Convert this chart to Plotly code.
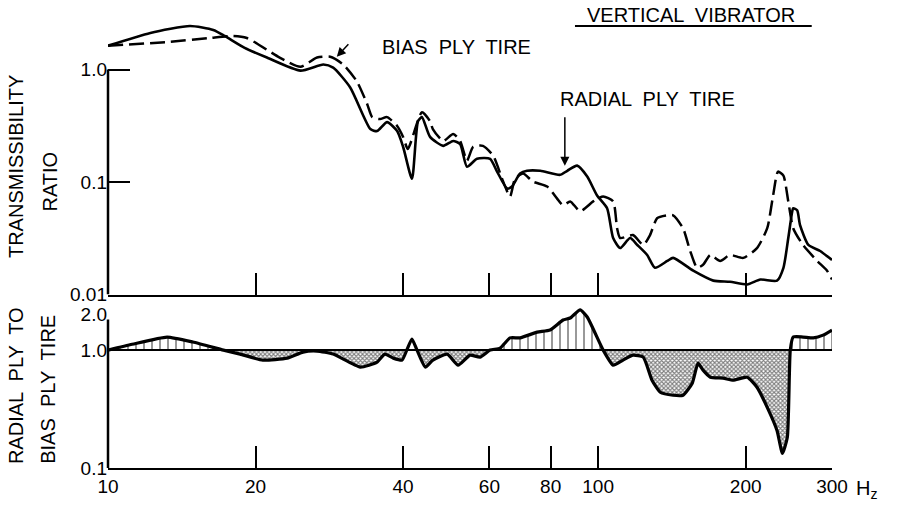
import numpy as np
import plotly.graph_objects as go
from plotly.subplots import make_subplots

# Transmissibilidade - pneu radial (linha cheia)
radial_hz = [10.0, 12.2, 14.7, 16.4, 17.3, 19.0, 21.1, 24.7, 27.5, 28.8, 31.2, 34.3, 35.4, 37.1,
             38.9, 40.0, 41.7, 42.9, 43.7, 45.4, 48.3, 50.6, 52.3, 54.0, 56.6, 60.2, 62.2, 65.2,
             66.7, 69.3, 71.6, 76.2, 83.6, 86.5, 90.6, 95.0, 99.5, 104.3, 107.3, 110.9, 116.2,
             120.2, 125.9, 130.6, 138.4, 142.2, 156.3, 171.8, 185.8, 201.4, 214.3, 231.7, 238.8,
             244.3, 248.9, 250.0, 254.7, 258.2, 268.5, 283.8, 300.0]
radial_tr = [1.63, 2.12, 2.44, 2.25, 1.99, 1.56, 1.28, 0.98, 1.11, 1.04, 0.694, 0.296, 0.284, 0.341,
             0.284, 0.206, 0.107, 0.348, 0.378, 0.252, 0.210, 0.232, 0.218, 0.137, 0.161, 0.161,
             0.124, 0.0877, 0.0913, 0.119, 0.126, 0.126, 0.116, 0.126, 0.140, 0.112, 0.076,
             0.0585, 0.0318, 0.0259, 0.0318, 0.0276, 0.0225, 0.0173, 0.0199, 0.0212, 0.0163,
             0.0133, 0.0130, 0.0123, 0.0136, 0.0133, 0.0173, 0.0318, 0.0550, 0.0585, 0.0561,
             0.0414, 0.0276, 0.0244, 0.0203]

# Transmissibilidade - pneu diagonal (tracejado)
bias_hz = [10.0, 13.2, 16.1, 18.0, 19.2, 22.4, 24.7, 26.7, 28.4, 30.2, 32.2, 33.8, 34.6, 35.9,
           37.1, 38.9, 40.0, 40.9, 43.7, 45.4, 46.0, 48.3, 50.6, 52.3, 54.0, 55.6, 58.2, 61.1,
           64.0, 66.1, 67.7, 70.3, 73.6, 78.7, 82.4, 84.8, 87.7, 91.9, 97.7, 102.4, 107.3, 109.3,
           110.9, 117.8, 123.6, 127.6, 131.9, 138.4, 142.2, 149.0, 154.1, 159.2, 163.7, 169.4,
           177.4, 185.8, 197.7, 210.9, 221.3, 227.5, 232.8, 238.8, 244.3, 250.0, 261.8, 279.9,
           293.1, 300.0]
bias_tr = [1.63, 1.76, 1.91, 1.99, 1.91, 1.28, 1.06, 1.28, 1.30, 1.11, 0.784, 0.492, 0.378, 0.363,
           0.378, 0.315, 0.252, 0.197, 0.418, 0.348, 0.296, 0.232, 0.268, 0.232, 0.155, 0.206,
           0.210, 0.171, 0.101, 0.0745, 0.107, 0.119, 0.101, 0.0913, 0.0716, 0.0621, 0.0673,
           0.0550, 0.0673, 0.0745, 0.0673, 0.0389, 0.0318, 0.0338, 0.0276, 0.0338, 0.0477,
           0.0507, 0.0507, 0.0389, 0.0244, 0.0173, 0.0184, 0.0225, 0.0199, 0.0225, 0.0212,
           0.0259, 0.0389, 0.0760, 0.124, 0.114, 0.0673, 0.0389, 0.0276, 0.0199, 0.0163, 0.0136]

# Razao radial / diagonal
ratio_hz = [10.0, 11.2, 13.2, 14.9, 17.2, 18.6, 20.7, 23.2, 25.0, 26.7, 28.8, 32.7, 35.4, 36.7,
            38.2, 39.8, 40.7, 41.7, 42.7, 44.4, 46.0, 49.2, 51.8, 54.8, 57.4, 60.2, 63.1, 66.1,
            69.3, 75.1, 79.8, 84.8, 87.7, 91.9, 95.0, 102.4, 107.3, 112.4, 117.8, 123.6, 128.8,
            133.9, 142.2, 149.0, 155.6, 159.9, 163.7, 169.4, 179.9, 188.6, 201.4, 210.9, 221.3,
            231.7, 237.7, 243.2, 246.6, 250.0, 261.8, 274.8, 287.7, 300.0]
ratio = [1.0, 1.12, 1.29, 1.17, 1.0, 0.925, 0.822, 0.855, 0.962, 0.98, 0.925, 0.717, 0.790, 0.925,
         0.855, 0.822, 1.0, 1.24, 1.0, 0.717, 0.822, 0.925, 0.745, 0.907, 0.872, 1.0, 1.04, 1.27,
         1.27, 1.42, 1.48, 1.80, 1.87, 2.19, 1.91, 1.0, 0.745, 0.822, 0.907, 0.872, 0.555, 0.439,
         0.414, 0.414, 0.524, 0.775, 0.676, 0.589, 0.578, 0.555, 0.589, 0.484, 0.327, 0.208,
         0.133, 0.182, 1.0, 1.29, 1.29, 1.27, 1.34, 1.48]

x_ticks = [10, 20, 40, 60, 80, 100, 200, 300]

FONT = "Liberation Sans, Arial, Helvetica, sans-serif"

fig = make_subplots(rows=2, cols=1, shared_xaxes=False, vertical_spacing=0.03,
                    row_heights=[0.63, 0.37])

# curvas de transmissibilidade
fig.add_trace(go.Scatter(x=bias_hz, y=bias_tr, mode='lines', line=dict(color='black', width=2.5, dash='15px,6px', shape='spline', smoothing=0.6)), row=1, col=1)
fig.add_trace(go.Scatter(x=radial_hz, y=radial_tr, mode='lines', line=dict(color='black', width=2.6, shape='spline', smoothing=0.6)), row=1, col=1)

# areas da razao
r = np.array(ratio)
um = np.ones_like(r)
fig.add_trace(go.Scatter(x=ratio_hz, y=um, mode='lines', line=dict(width=0)), row=2, col=1)
fig.add_trace(go.Scatter(x=ratio_hz, y=np.maximum(r, 1), mode='lines', line=dict(width=0), fill='tonexty',
                         fillpattern=dict(shape='|', size=8, solidity=0.2, fgcolor='black', bgcolor='white')), row=2, col=1)
fig.add_trace(go.Scatter(x=ratio_hz, y=um, mode='lines', line=dict(width=0)), row=2, col=1)
fig.add_trace(go.Scatter(x=ratio_hz, y=np.minimum(r, 1), mode='lines', line=dict(width=0), fill='tonexty',
                         fillpattern=dict(shape='x', size=3, solidity=0.6, fgcolor='black', bgcolor='white')), row=2, col=1)
fig.add_trace(go.Scatter(x=ratio_hz, y=um, mode='lines', line=dict(color='black', width=2)), row=2, col=1)
fig.add_trace(go.Scatter(x=ratio_hz, y=ratio, mode='lines', line=dict(color='black', width=3.2, shape='spline', smoothing=0.5)), row=2, col=1)

# eixos
eixo_x = dict(type='log', range=[1, np.log10(300)], showgrid=False, zeroline=False,
              showline=True, linecolor='black', linewidth=2, ticks='inside', ticklen=22,
              tickwidth=1.5, tickcolor='black', tickvals=x_ticks,
              ticktext=[str(v) for v in x_ticks], tickfont=dict(size=19, color='black', family=FONT))
fig.update_xaxes(**eixo_x)
fig.update_xaxes(showticklabels=False, domain=[0, 1], row=1, col=1)
fig.update_xaxes(domain=[0, 1], row=2, col=1)

fig.update_yaxes(type='log', range=[-2, 0.432], domain=[0.388, 1.0], showgrid=False, zeroline=False,
                 showline=False, ticks='inside', ticklen=22, tickwidth=1.5, tickcolor='black',
                 tickvals=[0.01, 0.1, 1], ticktext=['0.01', '0.1', '1.0'],
                 tickfont=dict(size=19, color='black', family=FONT), row=1, col=1)
fig.update_yaxes(type='log', range=[-1, 0.361], domain=[0, 0.359], showgrid=False, zeroline=False,
                 showline=False, ticks='', tickvals=[0.1, 1, 2], ticktext=['0.1', '1.0', '2.0'],
                 tickfont=dict(size=19, color='black', family=FONT), row=2, col=1)

shapes = [
    dict(type='line', xref='x domain', x0=0, x1=0, yref='y', y0=0.01, y1=1.0, line=dict(color='black', width=2.5)),
    dict(type='line', xref='x2 domain', x0=0, x1=0, yref='y2', y0=0.1, y1=1.82, line=dict(color='black', width=2.5)),
    dict(type='line', xref='paper', x0=0.645, x1=0.972, yref='paper', y0=0.989, y1=0.989, line=dict(color='black', width=2)),
]

txt = dict(family=FONT, size=20, color='black')
anotacoes = [
    dict(text='TRANSMISSIBILITY', x=-0.128, y=0.674, textangle=-90),
    dict(text='RATIO', x=-0.080, y=0.641, textangle=-90),
    dict(text='RADIAL  PLY  TO', x=-0.128, y=0.184, textangle=-90),
    dict(text='BIAS  PLY  TIRE', x=-0.083, y=0.177, textangle=-90),
    dict(text='VERTICAL  VIBRATOR', x=0.805, y=1.013),
    dict(text='BIAS  PLY  TIRE', x=0.481, y=0.942),
    dict(text='RADIAL  PLY  TIRE', x=0.745, y=0.825),
    dict(text='H<sub>z</sub>', x=1.048, y=-0.047),
]
for a in anotacoes:
    fig.add_annotation(xref='paper', yref='paper', xanchor='center', yanchor='middle',
                       showarrow=False, font=txt, **a)

# setas
fig.add_annotation(xref='paper', yref='paper', x=0.316, y=0.920, ax=13, ay=-14, text='',
                   showarrow=True, arrowhead=2, arrowsize=1.2, arrowwidth=1.5, arrowcolor='black')
fig.add_annotation(xref='paper', yref='paper', x=0.631, y=0.676, ax=0, ay=-50, text='',
                   showarrow=True, arrowhead=2, arrowsize=1.2, arrowwidth=1.5, arrowcolor='black')

fig.update_layout(
    width=898, height=509,
    margin=dict(l=108, r=66, t=21, b=37),
    showlegend=False,
    plot_bgcolor='white', paper_bgcolor='white',
    shapes=shapes,
    hovermode=False,
)

fig.write_html("out.html", config={'displayModeBar': False},
               post_script="document.body.style.margin='0';")
